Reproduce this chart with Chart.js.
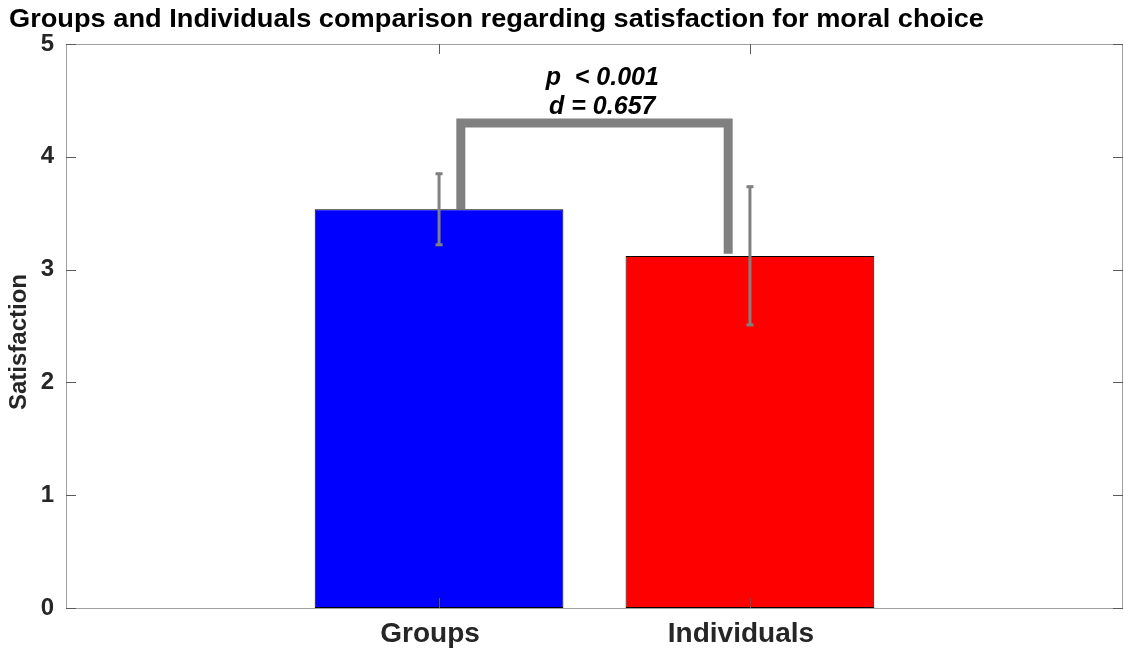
<!DOCTYPE html>
<html>
<head>
<meta charset="utf-8">
<script src="https://cdn.jsdelivr.net/npm/chart.js@4/dist/chart.umd.min.js"></script>
<style>
  html, body { margin: 0; padding: 0; background: #ffffff; }
  #wrap { width: 1124px; height: 651px; }
</style>
</head>
<body>
<div id="wrap"><canvas id="c" width="1124" height="651"></canvas></div>
<script>
// Satisfaction for moral choice: group vs individual decisions
const categories = ['Groups', 'Individuals'];
const means = [3.535, 3.12];
const errLow = [3.22, 2.51];
const errHigh = [3.85, 3.735];
const yTicks = [0, 1, 2, 3, 4, 5];
// significance bracket: left leg bottom, top, top, right leg bottom
const bracketLevels = [3.535, 4.30, 4.30, 3.14];
const statLines = ['p  < 0.001', 'd = 0.657'];
const statLevels = [4.637, 4.38];
const titleText = 'Groups and Individuals comparison regarding satisfaction for moral choice';
const yAxisTitle = 'Satisfaction';

const FONT = '"Liberation Sans", Arial, Helvetica, sans-serif';
const GREY = '#808080';

const barData = categories.map((c, i) => ({ x: i + 1, y: means[i] }));
const bracketX = [1.07, 1.07, 1.93, 1.93];

const errorSets = categories.map((c, i) => ({
  type: 'line',
  data: [{ x: i + 1, y: errLow[i] }, { x: i + 1, y: errHigh[i] }],
  borderColor: GREY,
  borderWidth: 3,
  pointStyle: 'line',
  pointRadius: 3.5,
  pointBorderWidth: 3,
  pointBorderColor: GREY,
  pointBackgroundColor: GREY,
  pointHoverRadius: 3.5,
  order: 1
}));

const bracketSet = {
  type: 'line',
  data: bracketX.map((x, k) => ({ x: x, y: bracketLevels[k] })),
  borderColor: GREY,
  borderWidth: 9,
  borderJoinStyle: 'miter',
  borderCapStyle: 'butt',
  pointRadius: 0,
  tension: 0,
  order: 2
};

// box around the axes with inward tick marks, plus title, y label and stats text
const decorations = {
  id: 'decorations',
  afterDraw(chart) {
    const ctx = chart.ctx;
    const a = chart.chartArea;
    const xs = chart.scales.x, ys = chart.scales.y;
    ctx.save();

    ctx.strokeStyle = '#a0a0a0';
    ctx.lineWidth = 1;
    ctx.strokeRect(Math.round(a.left) + 0.5, Math.round(a.top) + 0.5,
                   Math.round(a.right - a.left) - 1, Math.round(a.bottom - a.top));

    ctx.strokeStyle = '#5a5a5a';
    ctx.beginPath();
    yTicks.forEach(v => {
      const py = Math.round(ys.getPixelForValue(v)) + 0.5;
      ctx.moveTo(a.left, py); ctx.lineTo(a.left + 10, py);
      ctx.moveTo(a.right, py); ctx.lineTo(a.right - 10, py);
    });
    categories.forEach((c, i) => {
      const px = Math.round(xs.getPixelForValue(i + 1)) + 0.5;
      ctx.moveTo(px, a.bottom); ctx.lineTo(px, a.bottom - 10);
      ctx.moveTo(px, a.top); ctx.lineTo(px, a.top + 10);
    });
    ctx.stroke();

    // title spans the header from x=9 to x=984
    ctx.fillStyle = '#000000';
    ctx.font = 'bold 25px ' + FONT;
    ctx.textAlign = 'left';
    ctx.textBaseline = 'alphabetic';
    const tw = ctx.measureText(titleText).width;
    ctx.save();
    ctx.translate(9, 27);
    ctx.scale(975 / tw, 1);
    ctx.fillText(titleText, 0, 0);
    ctx.restore();

    ctx.fillStyle = '#262626';
    ctx.font = 'bold 24px ' + FONT;
    ctx.save();
    ctx.translate(19, 342);
    ctx.rotate(-Math.PI / 2);
    ctx.textAlign = 'center';
    ctx.textBaseline = 'middle';
    ctx.fillText(yAxisTitle, 0, 0);
    ctx.restore();

    ctx.fillStyle = '#000000';
    ctx.font = 'italic bold 25px ' + FONT;
    ctx.textAlign = 'center';
    ctx.textBaseline = 'alphabetic';
    const cx = xs.getPixelForValue(1.525);
    statLines.forEach((t, k) => ctx.fillText(t, cx, ys.getPixelForValue(statLevels[k])));

    ctx.restore();
  }
};

new Chart(document.getElementById('c'), {
  type: 'bar',
  data: {
    datasets: [
      {
        type: 'bar',
        data: barData,
        backgroundColor: ['#0000ff', '#ff0000'],
        borderColor: '#000000',
        borderWidth: 1,
        borderSkipped: false,
        barPercentage: 0.8,
        categoryPercentage: 1.0,
        order: 3
      },
      bracketSet,
      ...errorSets
    ]
  },
  options: {
    responsive: false,
    animation: false,
    layout: { autoPadding: false, padding: { top: 44, right: 1, left: 0, bottom: 0 } },
    plugins: { legend: { display: false }, tooltip: { enabled: false }, title: { display: false } },
    scales: {
      x: {
        type: 'linear',
        min: -0.2,
        max: 3.2,
        offset: false,
        grid: { display: false, drawTicks: false },
        border: { display: false },
        afterBuildTicks: s => { s.ticks = categories.map((c, i) => ({ value: i + 1 })); },
        afterFit: s => { s.height = 43; s.paddingLeft = 0; s.paddingRight = 0; },
        ticks: {
          autoSkip: false,
          maxRotation: 0,
          padding: 9,
          labelOffset: -9,
          color: '#262626',
          font: { family: FONT, weight: 'bold', size: 28 },
          callback: v => categories[v - 1]
        }
      },
      y: {
        min: 0,
        max: 5,
        grid: { display: false, drawTicks: false },
        border: { display: false },
        afterBuildTicks: s => { s.ticks = yTicks.map(v => ({ value: v })); },
        afterFit: s => { s.width = 66; s.paddingTop = 0; s.paddingBottom = 0; },
        ticks: {
          padding: 12,
          color: '#262626',
          font: { family: FONT, weight: 'bold', size: 24 },
          callback: v => String(v)
        }
      }
    }
  },
  plugins: [decorations]
});
</script>
</body>
</html>
